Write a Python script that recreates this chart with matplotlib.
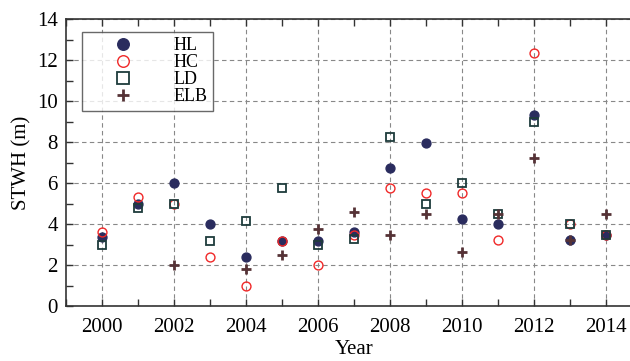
import numpy as np
import matplotlib
matplotlib.use('Agg')
import matplotlib.pyplot as plt
from matplotlib.ticker import MultipleLocator

plt.rcParams['font.family'] = ['Liberation Serif', 'DejaVu Serif']

# 연도별 유의파고 (STWH, m)
years = [2000, 2001, 2002, 2003, 2004, 2005, 2006, 2007,
         2008, 2009, 2010, 2011, 2012, 2013, 2014]
hl = [3.35, 4.97, 5.98, 3.98, 2.39, 3.19, 3.19, 3.59,
      6.75, 7.97, 4.24, 3.98, 9.32, 3.23, 3.48]
hc = [3.6, 5.33, 4.97, 2.39, 0.99, 3.19, 1.98, 3.45,
      5.74, 5.5, 5.5, 3.23, 12.33, 3.98, 3.48]
ld = [2.98, 4.8, 4.97, 3.19, 4.15, 5.74, 2.98, 3.28,
      8.24, 4.98, 6.0, 4.49, 8.98, 3.98, 3.48]
elb = [np.nan, np.nan, 2.0, np.nan, 1.8, 2.47, 3.74, 4.59,
       3.48, 4.49, 2.65, 4.49, 7.24, 3.23, 4.49]

fig = plt.figure(figsize=(6.3, 3.61), dpi=100)
ax = fig.add_axes([66 / 630, 55 / 361, 576 / 630, 287 / 361])

ax.plot(years, hl, 'o', ms=6.4, color='#2a2c5e', mec='#2a2c5e', label='HL', zorder=3)
ax.plot(years, hc, 'o', ms=6.4, mfc='none', mec='#f02828', mew=1.0, label='HC', zorder=4)
ax.plot(years, ld, 's', ms=6.4, mfc='none', mec='#1e3c3c', mew=1.3, label='LD', zorder=5)
ax.plot(years, elb, '+', ms=7, mew=2.0, color='#553236', label='ELB', zorder=6)

ax.set_xlim(1999, 2015)
ax.set_ylim(0, 14)
ax.xaxis.set_major_locator(MultipleLocator(2))
ax.xaxis.set_minor_locator(MultipleLocator(1))
ax.yaxis.set_major_locator(MultipleLocator(2))
ax.yaxis.set_minor_locator(MultipleLocator(1))
ax.tick_params(which='both', direction='in', top=True, right=False,
               labelsize=15, width=1.0, color='#333333', length=5)
ax.tick_params(axis='x', pad=9)
ax.tick_params(axis='y', pad=6)
ax.grid(True, which='major', linestyle=(0, (4, 3)), color='#888888', linewidth=0.8)

for side in ['left', 'bottom', 'top']:
    ax.spines[side].set_linewidth(1.2)
    ax.spines[side].set_color('#333333')

ax.set_xlabel('Year', fontsize=15, labelpad=2)
ax.set_ylabel('STWH (m)', fontsize=15, labelpad=4)

handles, labels = ax.get_legend_handles_labels()
leg = ax.legend(handles, labels, loc='upper left', bbox_to_anchor=(0.027, 0.955),
                fontsize=13, frameon=True, fancybox=False, edgecolor='#444444',
                markerscale=1.3, handletextpad=0.8, handlelength=4.0,
                labelspacing=0.0, borderpad=0.3, borderaxespad=0)
leg.get_frame().set_linewidth(1.0)

plt.savefig('out.png', dpi=100)
